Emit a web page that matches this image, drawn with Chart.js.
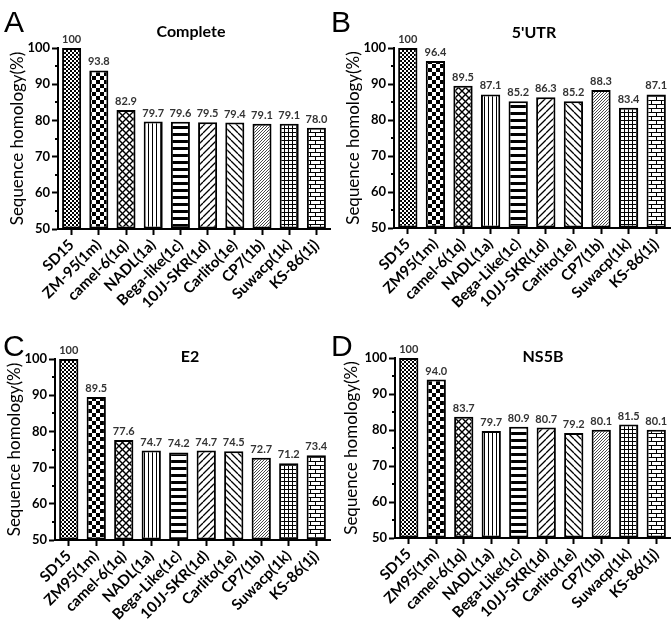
<!DOCTYPE html>
<html>
<head>
<meta charset="utf-8">
<script src="https://cdn.jsdelivr.net/npm/chart.js@4"></script>
<style>
  body { margin: 0; background: #fff; }
  #wrap { position: relative; width: 672px; height: 627px; overflow: hidden; }
  canvas { position: absolute; }
  .letter { position: absolute; font: 30px "Liberation Sans", Arial, sans-serif; line-height: 1; color: #000; }
</style>
</head>
<body>
<div id="wrap">
  <canvas id="chart-a" width="336" height="340" style="left:0;top:0"></canvas>
  <canvas id="chart-b" width="336" height="340" style="left:336px;top:0"></canvas>
  <canvas id="chart-c" width="336" height="314" style="left:0;top:313px"></canvas>
  <canvas id="chart-d" width="336" height="314" style="left:336px;top:313px"></canvas>
  <div class="letter" style="left:4px;top:7px">A</div>
  <div class="letter" style="left:331px;top:7px">B</div>
  <div class="letter" style="left:3px;top:331px">C</div>
  <div class="letter" style="left:331px;top:331px">D</div>
</div>
<script>
const labelsA = ["SD15", "ZM-95(1m)", "camel-6(1q)", "NADL(1a)", "Bega-like(1c)",
  "10JJ-SKR(1d)", "Carlito(1e)", "CP7(1b)", "Suwacp(1k)", "KS-86(1j)"];
const labelsBCD = ["SD15", "ZM95(1m)", "camel-6(1q)", "NADL(1a)", "Bega-Like(1c)",
  "10JJ-SKR(1d)", "Carlito(1e)", "CP7(1b)", "Suwacp(1k)", "KS-86(1j)"];

const completeValues = [100, 93.8, 82.9, 79.7, 79.6, 79.5, 79.4, 79.1, 79.1, 78.0];
const utrValues = [100, 96.4, 89.5, 87.1, 85.2, 86.3, 85.2, 88.3, 83.4, 87.1];
const e2Values = [100, 89.5, 77.6, 74.7, 74.2, 74.7, 74.5, 72.7, 71.2, 73.4];
const ns5bValues = [100, 94.0, 83.7, 79.7, 80.9, 80.7, 79.2, 80.1, 81.5, 80.1];

const yTicks = [50, 60, 70, 80, 90, 100];
const yMinorTicks = [55, 65, 75, 85, 95];

Chart.defaults.font.family = "Lato, 'Open Sans', sans-serif";
Chart.defaults.color = "#000";

// hatch fills, one per strain
function makePattern(w, h, draw) {
  const c = document.createElement("canvas");
  c.width = w;
  c.height = h;
  const x = c.getContext("2d");
  x.fillStyle = "#fff";
  x.fillRect(0, 0, w, h);
  x.fillStyle = "#000";
  x.strokeStyle = "#000";
  draw(x, w, h);
  return x.createPattern(c, "repeat");
}

function diag(x, w, h, lw, back) {
  x.lineWidth = lw;
  x.beginPath();
  for (let k = -1; k <= 1; k++) {
    if (back) {
      x.moveTo(k * w, 0);
      x.lineTo(k * w + w, h);
    } else {
      x.moveTo(k * w, h);
      x.lineTo(k * w + w, 0);
    }
  }
  x.stroke();
}

const fills = [
  makePattern(4, 4, (x) => { x.fillRect(0, 0, 2, 2); x.fillRect(2, 2, 2, 2); }),
  makePattern(8, 8, (x) => { x.fillRect(0, 0, 4, 4); x.fillRect(4, 4, 4, 4); }),
  makePattern(7, 7, (x, w, h) => { diag(x, w, h, 1.4, false); diag(x, w, h, 1.4, true); }),
  makePattern(4, 4, (x) => { x.fillRect(0, 0, 1, 4); }),
  makePattern(4, 7, (x) => { x.fillRect(0, 0, 4, 3); }),
  makePattern(7, 7, (x, w, h) => diag(x, w, h, 1.3, false)),
  makePattern(7, 7, (x, w, h) => diag(x, w, h, 1.3, true)),
  makePattern(3, 3, (x, w, h) => { x.globalAlpha = 0.8; diag(x, w, h, 0.9, false); }),
  makePattern(4, 4, (x) => { x.fillRect(0, 0, 4, 1); x.fillRect(0, 0, 1, 4); }),
  makePattern(10, 8, (x) => {
    x.fillRect(0, 0, 10, 1);
    x.fillRect(0, 4, 10, 1);
    x.fillRect(0, 0, 1, 4);
    x.fillRect(5, 4, 1, 4);
  }),
];

const valueLabels = {
  id: "valueLabels",
  afterDatasetsDraw(chart) {
    const ctx = chart.ctx;
    const values = chart.data.datasets[0].data;
    ctx.save();
    ctx.font = "bold 11px Lato";
    ctx.fillStyle = "#333";
    ctx.textAlign = "center";
    ctx.textBaseline = "bottom";
    chart.getDatasetMeta(0).data.forEach((bar, i) => {
      const v = values[i];
      ctx.fillText(v === 100 ? "100" : v.toFixed(1), bar.x, bar.y - 3);
    });
    ctx.restore();
  },
};

// short minor ticks on the y axis, plus the panel title
const panelTitle = {
  id: "panelTitle",
  afterDraw(chart, args, opts) {
    const ctx = chart.ctx;
    const y = chart.scales.y;
    ctx.save();
    ctx.strokeStyle = "#000";
    ctx.lineWidth = 2;
    ctx.beginPath();
    yMinorTicks.forEach((v) => {
      const py = Math.round(y.getPixelForValue(v));
      ctx.moveTo(y.right - 3, py);
      ctx.lineTo(y.right, py);
    });
    ctx.stroke();
    ctx.font = "bold 16px Lato";
    ctx.fillStyle = "#000";
    ctx.textAlign = "center";
    ctx.textBaseline = "middle";
    ctx.fillText(opts.text, opts.x, opts.y);
    ctx.restore();
  },
};

function makeChart(id, labels, values, title, box) {
  return new Chart(document.getElementById(id), {
    type: "bar",
    data: {
      labels: labels,
      datasets: [
        {
          data: values,
          base: 50,
          backgroundColor: fills,
          borderColor: "#000",
          borderWidth: 2,
          borderSkipped: false,
          barPercentage: 0.7,
          categoryPercentage: 1,
        },
      ],
    },
    options: {
      responsive: false,
      animation: false,
      events: [],
      layout: { padding: { top: box.top, right: box.right, left: 0, bottom: 0 } },
      plugins: {
        legend: { display: false },
        tooltip: { enabled: false },
        panelTitle: { text: title, x: box.tx, y: box.ty },
      },
      scales: {
        x: {
          grid: { drawOnChartArea: false, offset: false, tickLength: 6, tickWidth: 2, tickColor: "#000" },
          border: { color: "#000", width: 2 },
          ticks: {
            autoSkip: false,
            minRotation: 45,
            maxRotation: 45,
            padding: 1,
            color: "#000",
            font: { size: 15, weight: "bold" },
          },
          afterFit(scale) {
            scale.height = box.xh;
          },
        },
        y: {
          min: 50,
          max: 100,
          afterBuildTicks(scale) {
            scale.ticks = yTicks.map((v) => ({ value: v }));
          },
          ticks: { color: "#000", padding: 2, font: { size: 13, weight: "bold" } },
          grid: { drawOnChartArea: false, tickLength: 6, tickWidth: 2, tickColor: "#000" },
          border: { color: "#000", width: 2 },
          title: {
            display: true,
            text: "Sequence homology(%)",
            color: "#000",
            font: { size: 17 },
            padding: { top: box.tp, bottom: 0 },
          },
          afterFit(scale) {
            scale.width = box.yw;
          },
        },
      },
    },
    plugins: [valueLabels, panelTitle],
  });
}

const chartA = makeChart("chart-a", labelsA, completeValues, "Complete",
  { top: 48, right: 6, xh: 111, yw: 58, tp: 7, tx: 191, ty: 32 });
const chartB = makeChart("chart-b", labelsBCD, utrValues, "5'UTR",
  { top: 48, right: 2, xh: 112, yw: 58, tp: 7, tx: 198, ty: 33 });
const chartC = makeChart("chart-c", labelsBCD, e2Values, "E2",
  { top: 46, right: 6, xh: 87, yw: 55, tp: 4, tx: 190, ty: 44 });
const chartD = makeChart("chart-d", labelsBCD, ns5bValues, "NS5B",
  { top: 45, right: 2, xh: 89, yw: 59, tp: 5, tx: 207, ty: 44 });
</script>
</body>
</html>
